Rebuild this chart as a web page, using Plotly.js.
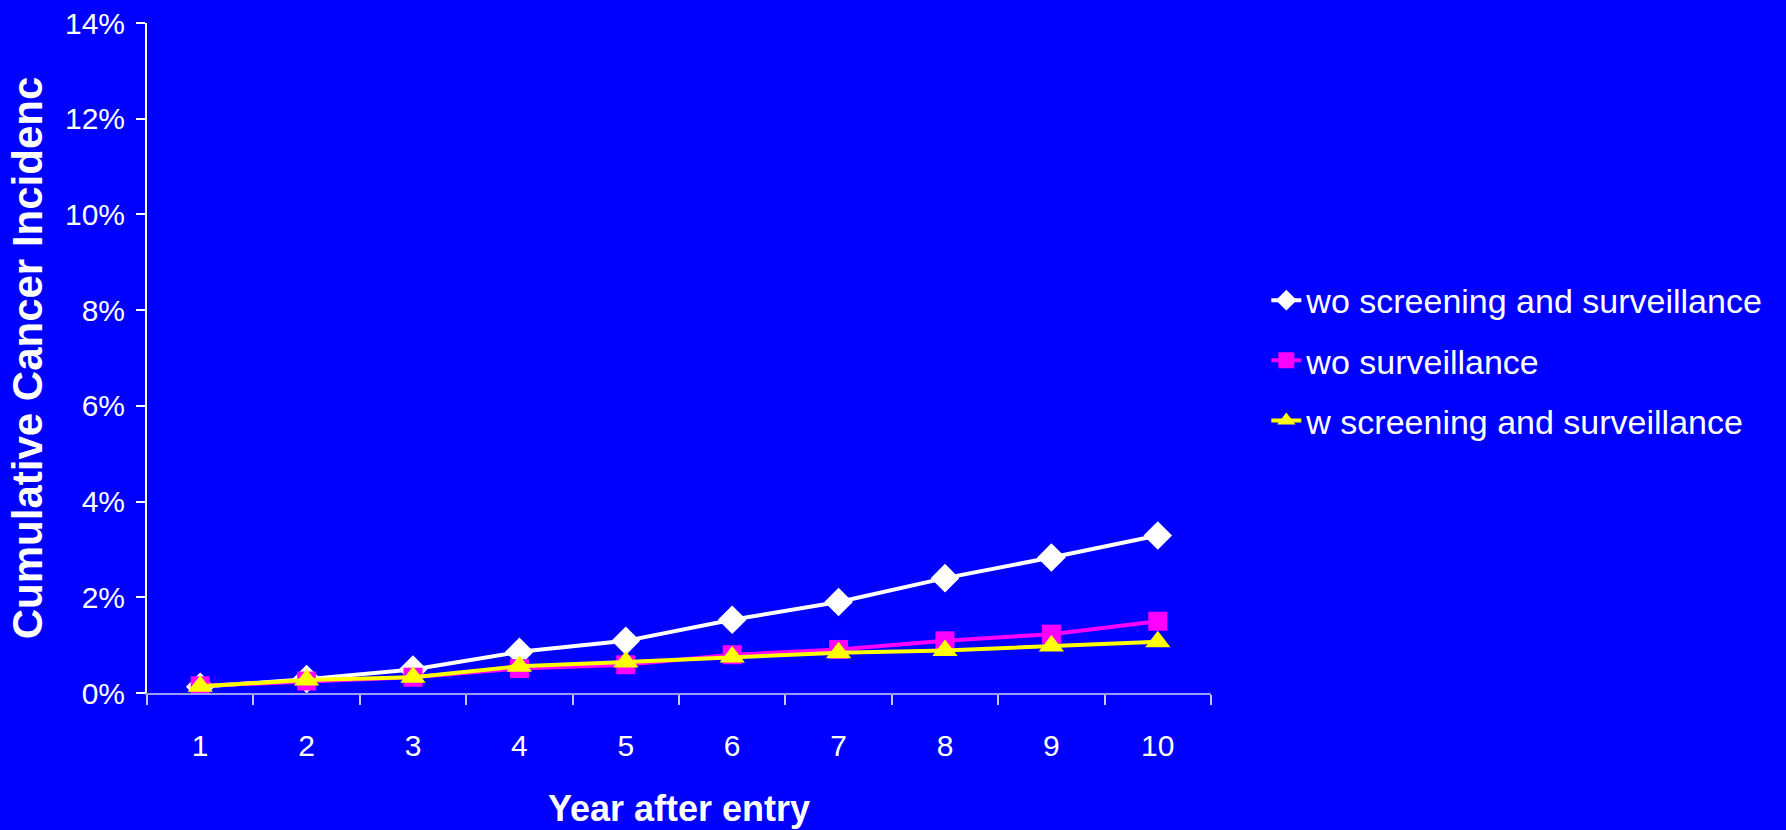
<!DOCTYPE html>
<html>
<head>
<meta charset="utf-8">
<script src="https://cdn.plot.ly/plotly-3.0.1.min.js"></script>
<style>html,body{margin:0;padding:0;background:#0000ff;}#chart{width:1786px;height:830px;}</style>
</head>
<body>
<div id="chart"></div>
<script>
// Data (cumulative cancer incidence, %)
const years = ["1","2","3","4","5","6","7","8","9","10"];
const woScreeningSurveillance = [0.13, 0.29, 0.49, 0.86, 1.09, 1.53, 1.90, 2.40, 2.83, 3.29];
const woSurveillance = [0.15, 0.25, 0.33, 0.51, 0.59, 0.80, 0.91, 1.09, 1.23, 1.50];
const wScreeningSurveillance = [0.14, 0.27, 0.33, 0.56, 0.65, 0.75, 0.84, 0.89, 0.98, 1.07];
const seriesNames = ["wo screening and surveillance", "wo surveillance", "w screening and surveillance"];
const yTickVals = [0, 2, 4, 6, 8, 10, 12, 14];
const yTickText = yTickVals.map(v => v + "%");

const traces = [
  {x: years, y: woScreeningSurveillance, name: seriesNames[0], legendgroup: "a", type: "scatter", mode: "lines+markers",
   line: {color: "#ffffff", width: 4}, marker: {symbol: "diamond", size: 22, color: "#ffffff"}},
  {x: years, y: woSurveillance, name: seriesNames[1], legendgroup: "b", type: "scatter", mode: "lines+markers",
   line: {color: "#ff00ff", width: 4}, marker: {symbol: "square", size: 19, color: "#ff00ff"}},
  {x: years, y: wScreeningSurveillance, name: seriesNames[2], legendgroup: "c", type: "scatter", mode: "lines+markers",
   line: {color: "#ffff00", width: 4}, marker: {symbol: "triangle-up", size: 22, color: "#ffff00"}}
];

const layout = {
  width: 1786, height: 830,
  paper_bgcolor: "#0000ff", plot_bgcolor: "#0000ff",
  font: {family: "Liberation Sans, Arial, sans-serif", color: "#ffffff"},
  margin: {l: 147, r: 575, t: 23, b: 137, pad: 0},
  showlegend: true,
  legend: {x: 1.052, y: 0.629, xanchor: "left", yanchor: "top", bgcolor: "rgba(0,0,0,0)",
           font: {size: 34, color: "#ffffff", family: "Liberation Sans, Arial, sans-serif"},
           traceorder: "grouped", tracegroupgap: 13, itemsizing: "trace"},
  xaxis: {
    type: "category", range: [-0.5, 9.5], tickson: "boundaries",
    showgrid: false, zeroline: false,
    showline: true, linecolor: "#9a9aff", linewidth: 2,
    ticks: "outside", ticklen: 10, tickwidth: 2, tickcolor: "#c8c8ff",
    tickfont: {family: "Liberation Sans, Arial, sans-serif", size: 30, color: "#ffffff"},
    ticklabelstandoff: 25,
    title: {text: "Year after entry", standoff: 35,
            font: {family: "Liberation Sans, Arial, sans-serif", size: 36, color: "#ffffff", weight: "bold"}},
    fixedrange: true
  },
  yaxis: {
    range: [0, 14], tickmode: "array", tickvals: yTickVals, ticktext: yTickText,
    showgrid: false, zeroline: false,
    showline: true, linecolor: "#ffffff", linewidth: 2,
    ticks: "outside", ticklen: 9, tickwidth: 2, tickcolor: "#ffffff",
    tickfont: {family: "Liberation Sans, Arial, sans-serif", size: 30, color: "#ffffff"},
    ticklabelstandoff: 5,
    title: {text: "Cumulative Cancer Incidenc", standoff: 9,
            font: {family: "Liberation Sans, Arial, sans-serif", size: 42, color: "#ffffff", weight: "bold"}},
    fixedrange: true
  }
};

Plotly.newPlot("chart", traces, layout, {displayModeBar: false, staticPlot: true});
</script>
</body>
</html>
